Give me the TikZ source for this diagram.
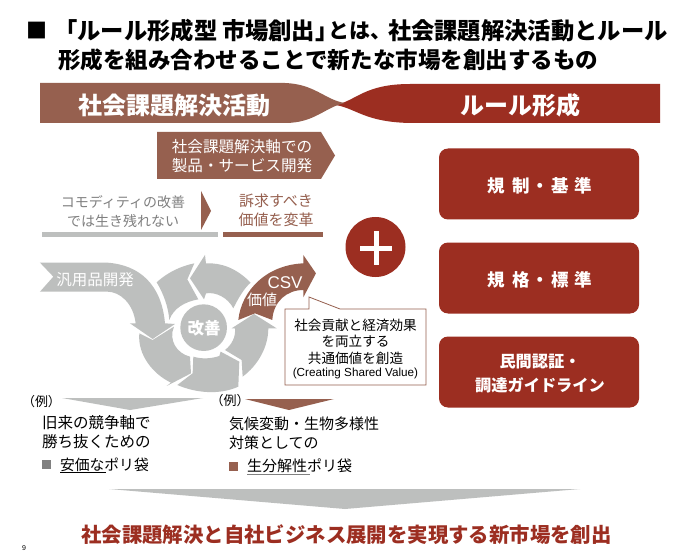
\documentclass[tikz,border=0pt]{standalone}
\usepackage{fontspec}
\setmainfont{Noto Sans CJK JP}
\newfontfamily\latinf{Liberation Sans}
\definecolor{cgray}{HTML}{BDBFBE}
\definecolor{cbrown}{HTML}{96604F}
\definecolor{cred}{HTML}{9C2E21}
\definecolor{ctxt}{HTML}{808080}
\newcommand{\fs}[1]{\fontsize{#1}{#1}\selectfont}
\tikzset{
  txt/.style={inner sep=0pt,outer sep=0pt,text=black},
  wtxt/.style={txt,text=white},
  redbox/.style={fill=cred,rounded corners=9pt,minimum width=200pt,minimum height=71pt,inner sep=0pt},
  gseg/.style={fill=cgray,draw=none},
  bseg/.style={fill=cbrown,draw=none}
}
\begin{document}
\begin{tikzpicture}[x=1pt,y=-1pt]
\useasboundingbox (0,0) rectangle (686,559);
\fill[white] (0,0) rectangle (686,559);
% title
\node[txt,anchor=west] (bullet) at (26,30.5) {\fs{21}\bfseries ■};
\node[txt,anchor=east] (t1a) at (217.5,31) {\fs{23.3}\bfseries 「ルール形成型};
\node[txt,anchor=west] (t1b) at (222,31) {\fs{23.3}\bfseries 市場創出」};
\node[txt,anchor=west] (t1c) at (328,31) {\fs{21}\bfseries とは、};
\node[txt,anchor=west] (t1d) at (388,31) {\fs{23.3}\bfseries 社会課題解決活動とルール};
\node[txt,anchor=west] (t2) at (58,60) {\fs{22.55}\bfseries 形成を組み合わせることで新たな市場を創出するもの};
% banner
\fill[cred] (336,105) .. controls (357,100) and (365,84) .. (410,84) -- (660,84) -- (660,123) -- (410,123) .. controls (365,122) and (357,109) .. (336,105) -- cycle;
\fill[cbrown] (40,83) -- (285,83) .. controls (315,84) and (325,100) .. (345,103) .. controls (325,107) and (315,123) .. (285,123) -- (40,123) -- cycle;
\node[wtxt] (bl) at (174,105) {\fs{24}\bfseries 社会課題解決活動};
\node[wtxt] (br) at (520,105) {\fs{24}\bfseries ルール形成};
% pentagon
\fill[cbrown] (157,132) -- (321,132) -- (335,155.5) -- (321,179) -- (157,179) -- cycle;
\node[wtxt] (p1) at (242,147) {\fs{15.6}社会課題解決軸での};
\node[wtxt] (p2) at (242,166) {\fs{15.6}製品・サービス開発};
% commodity
\node[txt,text=ctxt] (c1) at (123,202) {\fs{14}コモディティの改善};
\node[txt,text=ctxt] (c2) at (123,221) {\fs{14}では生き残れない};
\fill[cbrown] (201,191) -- (211,211) -- (201,230) -- cycle;
\fill[cgray] (42,232) rectangle (218,237);
\fill[cbrown] (223,232) rectangle (323,237);
\node[txt,text=cbrown] (v1) at (276,201) {\fs{15}訴求すべき};
\node[txt,text=cbrown] (v2) at (276,220) {\fs{15}価値を変革};
% plus
\fill[cred] (375.5,247) circle (30);
\fill[white] (373.5,231) rectangle (378.5,265);
\fill[white] (360,245.5) rectangle (392,250.5);
% red boxes
\node[redbox] (b1) at (539,184) {};
\node[redbox] (b2) at (539,278) {};
\node[redbox] (b3) at (539,372) {};
\node[wtxt] (b1t) at (540,185.5) {\fs{17.5}\bfseries 規\hspace{7pt}制\hspace{2pt}・\hspace{2pt}基\hspace{6pt}準};
\node[wtxt] (b2t) at (540,279.5) {\fs{17.5}\bfseries 規\hspace{7pt}格\hspace{2pt}・\hspace{2pt}標\hspace{6pt}準};
\node[wtxt] (b3a) at (540,362) {\fs{16.2}\bfseries 民間認証・};
\node[wtxt] (b3b) at (540,385) {\fs{16.2}\bfseries 調達ガイドライン};
% cycle (coordinates in 3x zoom units)
\begin{scope}[shift={(20,240)},x=0.3333pt,y=-0.3333pt]
\fill[gseg] (60,68) -- (262,68) .. controls (360,75) and (425,135) .. (435,250) -- (465,252) -- (398,297) -- (330,250) -- (347,250) .. controls (340,190) and (300,155) .. (262,155) -- (60,155) -- (100,110) -- cycle;
\fill[gseg] (410,127) .. controls (445,95) and (485,78) .. (523,70) -- (502,118) -- (535,178) .. controls (495,185) and (460,205) .. (448,240) .. controls (445,200) and (430,160) .. (410,127) -- cycle;
\fill[gseg] (358,280) -- (398,300) -- (462,260) .. controls (445,300) and (470,340) .. (510,350) -- (513,400) -- (440,438) -- (453,428) .. controls (400,403) and (352,345) .. (358,280) -- cycle;
\fill[gseg] (520,350) .. controls (545,358) and (575,356) .. (598,348) -- (602,335) -- (658,365) -- (655,440) .. controls (600,465) and (530,460) .. (472,435) -- (518,400) -- cycle;
\fill[gseg] (615,330) .. controls (635,315) and (648,290) .. (645,265) -- (635,265) -- (702,222) -- (770,265) -- (745,265) .. controls (745,320) and (715,375) .. (668,410) -- (665,360) -- cycle;
\fill[gseg] (692,128) .. controls (650,85) and (605,68) .. (558,70) -- (555,45) -- (510,115) -- (552,178) -- (558,160) .. controls (590,155) and (625,175) .. (640,205) .. controls (655,175) and (672,145) .. (692,128) -- cycle;
\fill[bseg] (655,240) .. controls (665,150) and (740,75) .. (850,70) -- (850,45) -- (888,100) -- (850,172) -- (850,150) .. controls (800,150) and (760,185) .. (757,240) -- (705,220) -- cycle;
\fill[cgray] (551,263) circle (70);
\end{scope}
\node[wtxt] (hub) at (204,328) {\fs{16.5}\bfseries 改善};
\node[wtxt] (gen) at (95,280) {\fs{15.5}汎用品開発};
\node[wtxt] (csv) at (285,283) {\latinf\fs{17}CSV};
\node[wtxt] (val) at (262,300) {\fs{15}価値};
% callout
\filldraw[fill=white,draw=cbrown,line width=0.8pt] (285,309) -- (309,309) -- (309,297) -- (340,309) -- (426,309) -- (426,385) -- (285,385) -- cycle;
\node[txt] (k1) at (355.5,325) {\fs{13.6}社会貢献と経済効果};
\node[txt] (k2) at (355.5,341) {\fs{13.6}を両立する};
\node[txt] (k3) at (355.5,358) {\fs{13.6}共通価値を創造};
\node[txt] (k4) at (355.5,373) {\latinf\fs{11.7}(Creating Shared Value)};
% examples
\node[txt] (e1) at (41.5,402) {\fs{13}（例）};
\node[txt] (e2) at (230,401) {\fs{13}（例）};
\fill[cgray] (62,398) -- (203,398) -- (130,410) -- cycle;
\fill[cbrown] (245,399) -- (334,399) -- (289,410) -- cycle;
\node[txt,anchor=west] (l1) at (42,423) {\fs{15.5}旧来の競争軸で};
\node[txt,anchor=west] (l2) at (42,442) {\fs{15.5}勝ち抜くための};
\fill[ctxt] (42,460) rectangle (51,469);
\node[txt,anchor=west] (l3) at (60,465) {\fs{14.8}安価なポリ袋};
\draw[black,line width=0.8pt] (60,472) -- (106,472);
\node[txt,anchor=west] (r1) at (229,424) {\fs{15}気候変動・生物多様性};
\node[txt,anchor=west] (r2) at (229,443) {\fs{15}対策としての};
\fill[cbrown] (229,462) rectangle (238,471);
\node[txt,anchor=west] (r3) at (247,466) {\fs{15}生分解性ポリ袋};
\draw[ctxt,line width=0.9pt] (247,474) -- (310,474);
% bottom
\fill[cgray] (109,489) -- (580,489) -- (345,509) -- cycle;
\node[txt,text=cred] (res) at (346.5,535) {\fs{20.4}\bfseries 社会課題解決と自社ビジネス展開を実現する新市場を創出};
\node[txt] (pg) at (24,548) {\latinf\fs{7}9};
\end{tikzpicture}
\end{document}
